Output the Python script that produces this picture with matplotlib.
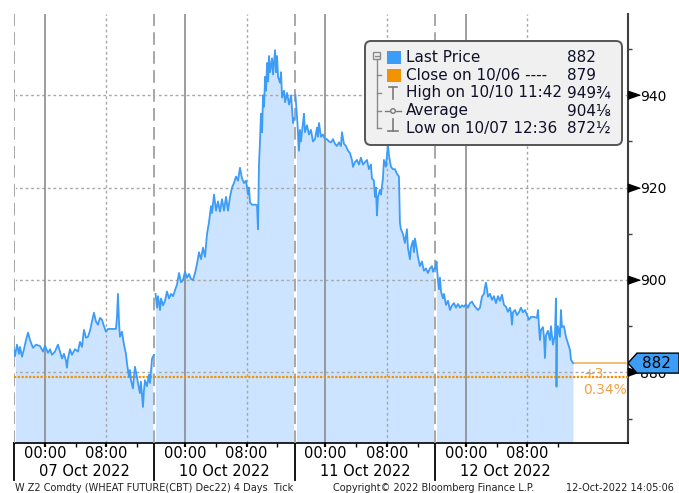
import numpy as np
import matplotlib
matplotlib.use("Agg")
import matplotlib.pyplot as plt
from matplotlib.patches import FancyBboxPatch, Polygon, Rectangle, Circle
from matplotlib.lines import Line2D
from matplotlib.transforms import IdentityTransform

W, H = 679, 493

# each trading session (20:00 -> ~14:15) takes the same width on the axis
SESSION = 18.25
day_names = ["07 Oct 2022", "10 Oct 2022", "11 Oct 2022", "12 Oct 2022"]

# hours after session open / price
oct07_t = [0, 0.13, 0.39, 0.65, 0.78, 1.04, 1.30, 1.56, 1.82, 2.08, 2.47, 2.86, 3.38, 3.77, 4.03,
           4.42, 4.68, 4.94, 5.33, 5.72, 5.98, 6.24, 6.50, 6.76, 6.89, 7.02, 7.28, 7.54, 7.93, 8.32,
           8.58, 8.84, 9.10, 9.36, 9.62, 9.88, 10.14, 10.40, 10.66, 10.92, 11.18, 11.44, 11.70, 11.96, 12.22,
           12.74, 13.26, 13.39, 13.52, 13.65, 13.78, 14.04, 14.30, 14.56, 14.69, 14.82, 14.95, 15.08, 15.21, 15.47,
           15.60, 15.73, 15.99, 16.12, 16.38, 16.51, 16.77, 16.90, 17.03, 17.29, 17.55, 17.69, 17.95, 18.2]
oct07_p = [885, 883.5, 886, 884, 885.5, 883.4, 885, 887, 888.6, 887, 885.3, 886, 885.7, 884.5, 885.8,
           884.2, 885, 883.8, 884.5, 886, 884.5, 883, 884, 882.5, 881, 883, 885, 883.8, 885, 884.5,
           886.6, 885.5, 889.2, 887.5, 887.7, 889, 891, 892.9, 891, 890.3, 891.8, 891.4, 890, 888.8, 889.4,
           889.4, 889.4, 892, 897, 891, 887.7, 888.8, 886, 884, 882, 880.5, 879, 880.5, 878.3, 876.5,
           879, 881.2, 879, 877.7, 875.5, 878, 872.5, 876, 878.3, 877, 879.5, 877.7, 883, 883.8]

oct10_t = [0.16, 0.35, 0.48, 0.74, 0.87, 1.13, 1.39, 1.65, 1.91, 2.17, 2.43, 2.69, 2.95, 3.21, 3.47,
           3.73, 3.99, 4.25, 4.51, 4.77, 5.03, 5.29, 5.55, 5.81, 6.07, 6.33, 6.59, 6.85, 7.11, 7.37,
           7.50, 7.76, 8.02, 8.28, 8.54, 8.80, 9.06, 9.32, 9.58, 9.84, 10.10, 10.36, 10.62, 10.88, 11.14,
           11.40, 11.66, 11.92, 12.18, 12.31, 12.44, 12.70, 13.09, 13.35, 13.48, 13.61, 13.74, 13.87, 14.01, 14.14,
           14.27, 14.40, 14.53, 14.66, 14.79, 14.92, 15.05, 15.31, 15.44, 15.70, 15.83, 15.96, 16.09, 16.35, 16.48,
           16.61, 16.87, 17.00, 17.26, 17.52, 17.78, 17.91, 18.04, 18.17]
oct10_p = [897, 894, 896.5, 893.5, 896, 894.5, 895.5, 897.5, 896, 897, 896.5, 897.8, 899, 901.5, 899.5,
           900, 901.8, 900.5, 901.3, 900.2, 900, 901.5, 903.5, 906, 904.5, 907, 905, 910, 912.5, 916,
           914.5, 918.5, 915, 917, 914.8, 917.5, 915, 918, 915, 918, 920, 921, 922.4, 921.5, 924.3,
           922, 921, 921.5, 918.5, 920, 916.8, 916.3, 916.3, 916.2, 911, 925, 930, 936, 932, 940,
           937.5, 944, 941, 947, 943, 948.5, 945, 948, 944.5, 949.75, 945, 948.5, 944, 942.7, 945,
           939.5, 941, 938.5, 940.5, 938, 940, 937, 934, 935]

oct11_t = [0.10, 0.23, 0.36, 0.56, 0.69, 0.82, 1.08, 1.21, 1.34, 1.60, 1.86, 2.12, 2.38, 2.64, 2.90,
           3.03, 3.16, 3.42, 3.68, 3.94, 4.20, 4.46, 4.72, 4.98, 5.24, 5.50, 5.76, 6.02, 6.15, 6.41,
           6.67, 6.93, 7.19, 7.45, 7.58, 7.84, 8.10, 8.36, 8.62, 8.88, 9.14, 9.40, 9.66, 9.92, 10.05,
           10.31, 10.44, 10.57, 10.70, 10.83, 11.09, 11.22, 11.48, 11.61, 11.87, 12.00, 12.13, 12.26, 12.52, 12.78,
           13.04, 13.30, 13.56, 13.69, 13.82, 14.08, 14.34, 14.60, 14.73, 14.99, 15.12, 15.38, 15.51, 15.64, 15.90,
           16.03, 16.29, 16.55, 16.81, 17.07, 17.33, 17.59, 17.85, 17.98, 18.18]
oct11_p = [940, 937, 934, 928, 932.5, 930, 934, 936, 932, 933.5, 931.5, 932.5, 930, 930.5, 933,
           931, 934, 931, 931.5, 930.5, 930.5, 930, 929.8, 930.5, 929.5, 929, 929.8, 929, 932, 929.5,
           929, 928, 927.5, 926, 924.5, 925.5, 926, 925, 926.5, 925, 925.5, 926, 924, 925, 922,
           921.5, 918, 920, 914, 918, 919.5, 918.5, 922, 926, 924.5, 927, 929.3, 927, 924.5, 924,
           924, 923, 922.4, 912.4, 911, 910, 908, 911, 907, 904.5, 907, 908.5, 906, 909, 906.5,
           905, 903, 904, 902, 902.5, 901.5, 902.5, 903, 901.8, 902.5]

oct12_t = [0.07, 0.20, 0.33, 0.52, 0.65, 0.78, 1.04, 1.17, 1.43, 1.69, 1.95, 2.21, 2.47, 2.73, 2.99,
           3.25, 3.51, 3.77, 4.03, 4.29, 4.55, 4.81, 5.07, 5.33, 5.59, 5.85, 6.11, 6.37, 6.50, 6.63,
           6.76, 6.89, 7.15, 7.41, 7.67, 7.93, 8.19, 8.45, 8.71, 8.97, 9.23, 9.49, 9.75, 9.88, 10.01,
           10.14, 10.40, 10.66, 10.92, 11.18, 11.44, 11.70, 11.96, 12.22, 12.48, 12.87, 13.26, 13.39, 13.52, 13.65,
           13.78, 14.04, 14.17, 14.30, 14.43, 14.69, 14.95, 15.08, 15.34, 15.60, 15.73, 15.80, 15.86, 15.99, 16.25,
           16.38, 16.51, 16.77, 17.03, 17.29, 17.56, 17.69, 17.95]
oct12_p = [902.5, 904, 901, 898, 900.5, 897.5, 896, 897, 894.6, 895.5, 893.5, 894.5, 895, 894, 894.8,
           894, 894.5, 894.2, 894.8, 894, 895, 895.3, 894.5, 894, 893.5, 894, 896.4, 897, 898.5, 899.4,
           898, 896.4, 897, 895.7, 896.5, 895, 896.5, 895.5, 896.8, 894.6, 894.2, 893.1, 894, 893, 890.3,
           893, 893.5, 892.4, 893, 894, 893, 893.5, 892.5, 891.4, 892, 892, 891.8, 893.5, 890, 887,
           889.2, 889.8, 887.7, 883.1, 888, 889, 887, 890, 886, 888, 896, 876.9, 887, 890, 887.7,
           893.5, 889.8, 890, 887.7, 886.3, 884.8, 882.7, 882]

sessions_t = [oct07_t, oct10_t, oct11_t, oct12_t]
sessions_p = [oct07_p, oct10_p, oct11_p, oct12_p]

prev_close = 879
last_price = 882
high_px, avg_px, low_px = 949.75, 904.125, 872.5

y_ticks = [880, 900, 920, 940]
y_minor = [870, 890, 910, 930, 950]

line_blue = "#3d9cf5"
fill_blue = "#cce4ff"
orange = "#f39200"
grid = "#a8a8a8"

fig = plt.figure(figsize=(W / 100, H / 100), dpi=100)
ax = fig.add_axes([14 / W, 1 - 443 / H, (628 - 14) / W, (443 - 14) / H])
xmax = 79.85
ax.set_xlim(0, xmax)
ax.set_ylim(864.7, 957.6)

for k, (t, p) in enumerate(zip(sessions_t, sessions_p)):
    tt = np.array(t) + k * SESSION
    ax.fill_between(tt, p, 800, color=fill_blue, lw=0, zorder=1)
    ax.plot(tt, p, color=line_blue, lw=1.3, zorder=5)

for v in y_ticks:
    ax.axhline(v, color=grid, lw=1, ls=(0, (2, 2)), zorder=2)

for k in range(len(day_names)):
    s = k * SESSION
    ax.axvline(s, color="white", lw=2, zorder=2)
    ax.axvline(s, color="#a0a0a0", lw=1.3, ls=(0, (7, 3.5)), zorder=3)
    ax.axvline(s + 4, color="#8c8c8c", lw=1.2, zorder=2)
    ax.axvline(s + 12, color=grid, lw=1, ls=(0, (2, 2)), zorder=2)

# previous close line
ax.axhline(prev_close, color=orange, lw=1.6, ls=(0, (1, 0.7)), zorder=4)

# last price marker line + change
t_end = oct12_t[-1] + 3 * SESSION
ax.plot([t_end, xmax], [last_price, last_price], color="#f5b060", lw=1.2, zorder=4, clip_on=False)
chg = last_price - prev_close
ax.annotate("%+d" % chg, xy=(t_end, last_price), xytext=(10, -11), textcoords="offset pixels",
            color="#f2a040", fontsize=10, ha="left", va="center", zorder=6)
ax.annotate("%.2f%%" % (chg / prev_close * 100), xy=(t_end, last_price), xytext=(10, -27),
            textcoords="offset pixels", color="#f2a040", fontsize=10, ha="left", va="center", zorder=6)

# axes frame
for side in ["left", "top"]:
    ax.spines[side].set_visible(False)
ax.spines["right"].set_color("#404040")
ax.spines["right"].set_linewidth(1.5)
ax.spines["bottom"].set_color("black")
ax.spines["bottom"].set_linewidth(1.2)

# right price axis
ax.yaxis.tick_right()
ax.set_yticks(y_ticks)
ax.set_yticks(y_minor, minor=True)
ax.tick_params(axis="y", which="major", length=0, pad=8.5, labelsize=10)
ax.tick_params(axis="y", which="minor", length=3, width=1, color="#404040")
tri = [(0, -0.35), (0, 0.35), (1, 0)]
ax.plot([1.0] * len(y_ticks), y_ticks, ls="none", marker=tri, ms=17, color="black",
        transform=ax.get_yaxis_transform(), clip_on=False, zorder=6)

# time axis
major = [k * SESSION + h for k in range(4) for h in (4, 12)]
minor = [k * SESSION + h for k in range(4) for h in (8, 16)]
ax.set_xticks(major)
ax.set_xticklabels([])
ax.set_xticks(minor, minor=True)
ax.tick_params(axis="x", which="major", direction="out", length=3, width=1.6, color="black")
ax.tick_params(axis="x", which="minor", direction="out", length=3, width=1, color="black")
xt = ax.get_xaxis_transform()
for k, name in enumerate(day_names):
    s = k * SESSION
    ax.text(s + 4, -0.024, "00:00", transform=xt, ha="center", va="center", fontsize=10.5)
    ax.text(s + 12, -0.024, "08:00", transform=xt, ha="center", va="center", fontsize=10.5)
    ax.text(s + SESSION / 2, -0.067, name, transform=xt, ha="center", va="center", fontsize=10.5)
    ax.plot([s, s], [0, -0.086], transform=xt, color="black", lw=1.3, clip_on=False)

# legend panel (drawn in pixel space)
ident = IdentityTransform()


def P(x, y):
    return (x, H - y)


box = FancyBboxPatch(P(365, 145), 257, 104, boxstyle="round,pad=0,rounding_size=6",
                     fc="#f0f0f0", ec="#555555", lw=1.4, transform=ident, zorder=10)
fig.add_artist(box)
tree = "#8a8a8a"
fig.add_artist(Rectangle(P(373, 59), 7, 7, fc="#f0f0f0", ec=tree, lw=1, transform=ident, zorder=11))
fig.add_artist(Line2D([374.5, 378.5], [H - 55.5, H - 55.5], color=tree, lw=1, transform=ident, zorder=11))
fig.add_artist(Line2D([376.5, 376.5], [H - 59, H - 128], color=tree, lw=1, transform=ident, zorder=11))
for yy in (75, 93, 111, 128):
    fig.add_artist(Line2D([376.5, 381], [H - yy, H - yy], color=tree, lw=1, transform=ident, zorder=11))
fig.add_artist(Rectangle(P(387, 64), 14, 13, fc="#3d9cf5", ec="none", transform=ident, zorder=11))
fig.add_artist(Rectangle(P(387, 82), 14, 13, fc=orange, ec="none", transform=ident, zorder=11))
icon = "#7a7a7a"
fig.add_artist(Line2D([389, 397], [H - 87, H - 87], color=icon, lw=1.2, transform=ident, zorder=11))
fig.add_artist(Line2D([393, 393], [H - 87, H - 99], color=icon, lw=1.2, transform=ident, zorder=11))
fig.add_artist(Line2D([385, 401], [H - 111, H - 111], color=icon, lw=1, transform=ident, zorder=11))
fig.add_artist(Circle(P(393, 111), 2.3, fc="#f0f0f0", ec=icon, lw=1, transform=ident, zorder=12))
fig.add_artist(Line2D([393, 393], [H - 119, H - 131], color=icon, lw=1.2, transform=ident, zorder=11))
fig.add_artist(Line2D([388, 398], [H - 131, H - 131], color=icon, lw=1.2, transform=ident, zorder=11))

rows = [("Last Price", "%d" % last_price, 58),
        ("Close on 10/06 ----", "%d" % prev_close, 75.5),
        ("High on 10/10 11:42", "949\u00be", 93),
        ("Average", "904\u215b", 111),
        ("Low on 10/07 12:36", "872\u00bd", 128.5)]
for label, val, yy in rows:
    fig.text(406 / W, 1 - yy / H, label, fontsize=11, color="#101028", va="center", ha="left", zorder=13)
    fig.text(567 / W, 1 - yy / H, val, fontsize=11, color="#101028", va="center", ha="left", zorder=13)

# last price tag on the price axis (covers the 880 label, as in the terminal)
y_tag = ax.transData.transform((0, last_price))[1]
x0 = ax.transAxes.transform((1, 0))[0]
tag = Polygon([(x0, y_tag), (x0 + 9, y_tag + 10), (W, y_tag + 10), (W, y_tag - 10), (x0 + 9, y_tag - 10)],
              closed=True, fc="#3d9cf5", ec="black", lw=1, transform=ident, zorder=10)
fig.add_artist(tag)
fig.text((x0 + 28) / W, y_tag / H, "%d" % last_price, fontsize=11, color="black",
         ha="center", va="center", zorder=11)

# footer
fig.text(15 / W, 1 - 488 / H, "W Z2 Comdty (WHEAT FUTURE(CBT) Dec22) 4 Days  Tick", fontsize=7,
         va="center", color="#202020")
fig.text(333 / W, 1 - 488 / H, "Copyright\u00a9 2022 Bloomberg Finance L.P.", fontsize=7,
         va="center", color="#202020")
fig.text(566 / W, 1 - 488 / H, "12-Oct-2022 14:05:06", fontsize=7, va="center", color="#202020")

fig.savefig("out.png", dpi=100)
